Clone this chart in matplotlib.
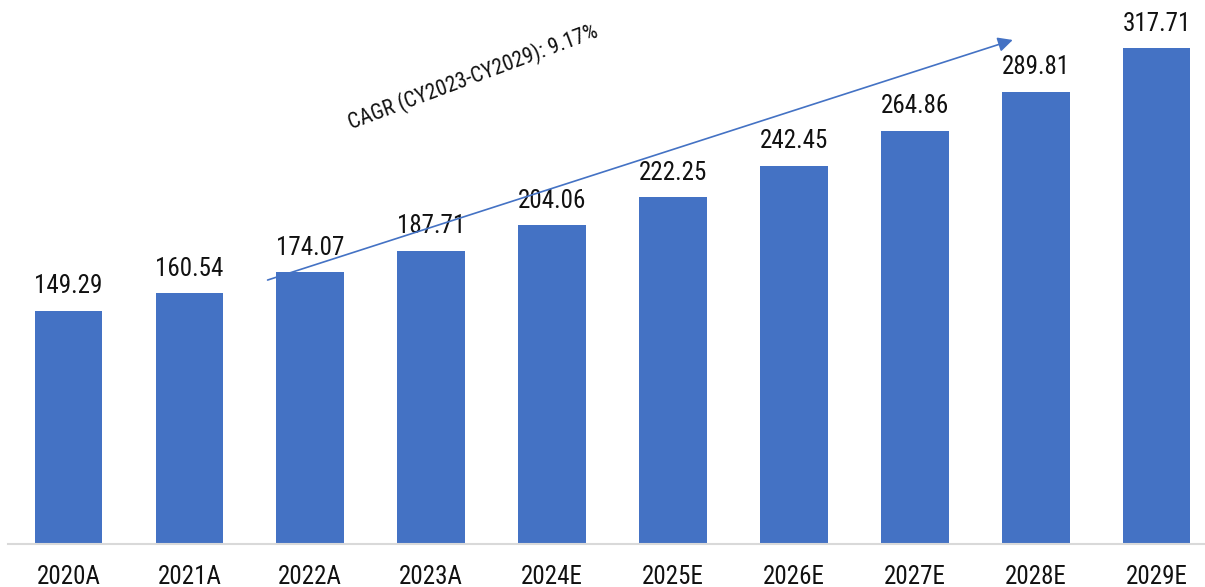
import matplotlib.pyplot as plt
from matplotlib import font_manager

years = ['2020A', '2021A', '2022A', '2023A', '2024E', '2025E', '2026E', '2027E', '2028E', '2029E']
values = [149.29, 160.54, 174.07, 187.71, 204.06, 222.25, 242.45, 264.86, 289.81, 317.71]
cagr_text = 'CAGR (CY2023-CY2029): 9.17%'

names = set(f.name for f in font_manager.fontManager.ttflist)
fams = [f for f in ['Roboto Condensed', 'Liberation Sans Narrow', 'Roboto', 'DejaVu Sans'] if f in names]
plt.rcParams['font.family'] = fams

bar_color = '#4472C4'

fig = plt.figure(figsize=(12.05, 5.87), dpi=100)
ax = fig.add_axes([8 / 1205, 43 / 587, 1 - 8 / 1205, 1 - 43 / 587])

x = list(range(len(years)))
bars = ax.bar(x, values, width=0.56, color=bar_color, zorder=2)

for xi, v in zip(x, values):
    ax.annotate('%.2f' % v, (xi, v), xytext=(0, 9), textcoords='offset points',
                ha='center', va='bottom', fontsize=18, color='#111111')

ax.set_xlim(-0.5, 9.40)
ax.set_ylim(0, 348.5)
ax.set_xticks(x)
ax.set_xticklabels(years, fontsize=18, color='#111111')
ax.tick_params(axis='x', length=0, pad=15)
ax.set_yticks([])
for s in ['top', 'right', 'left']:
    ax.spines[s].set_visible(False)
ax.spines['bottom'].set_color('#D9D9D9')
ax.spines['bottom'].set_linewidth(1.5)

# CAGR arrow
ax.annotate('', xy=(7.81, 322.9), xytext=(1.647, 169.1),
            arrowprops=dict(arrowstyle='-|>', color=bar_color, lw=1.2,
                            mutation_scale=22, shrinkA=0, shrinkB=0), zorder=3)
ax.text(3.35, 299, cagr_text, rotation=20.5, ha='center', va='center',
        fontsize=15.5, color='#111111')

fig.savefig('out.png', dpi=100)
